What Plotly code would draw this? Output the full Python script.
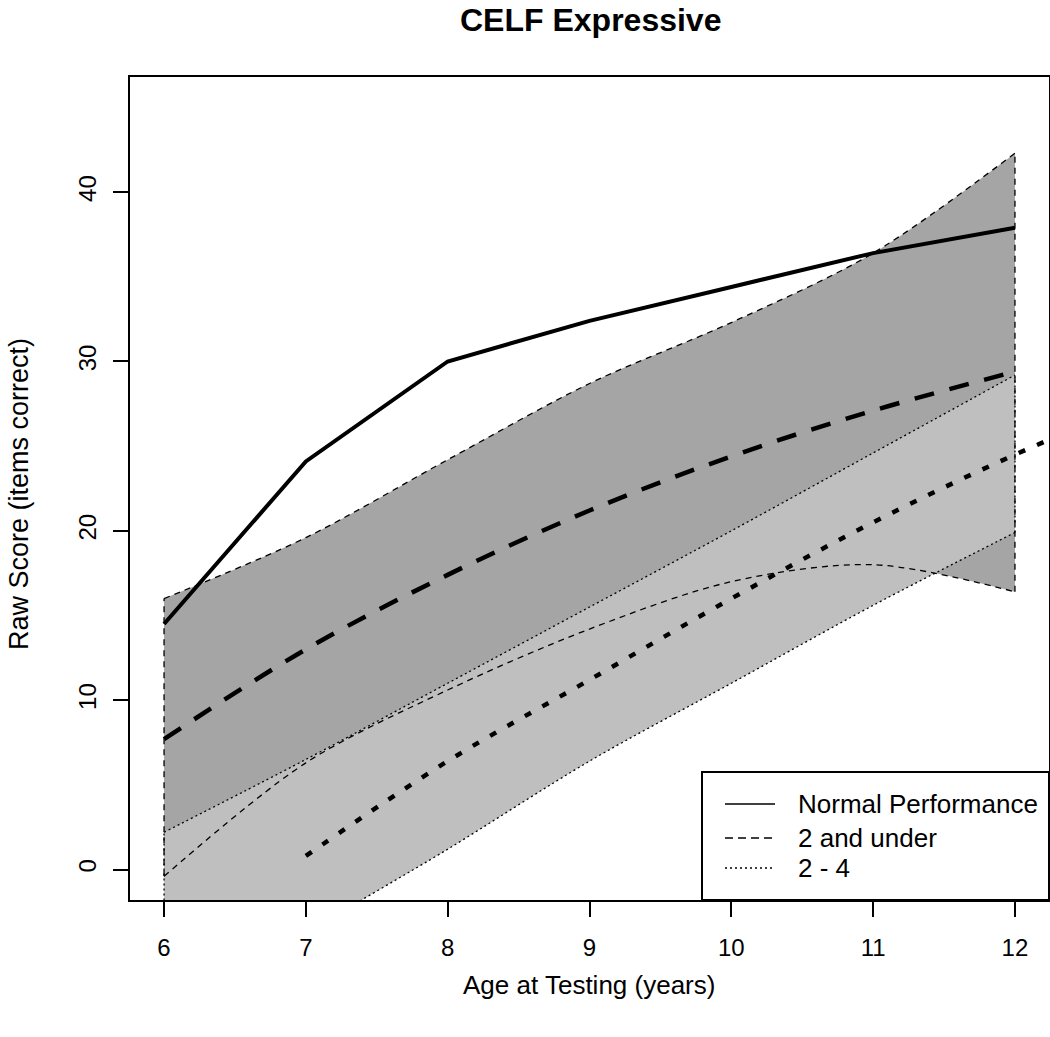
import plotly.graph_objects as go

# ---------------- data ----------------
ages = [6, 7, 8, 9, 10, 11, 12]

normal_perf = [14.5, 24.1, 30.0, 32.4, 34.4, 36.4, 37.9]

under2_mean = [7.7, 13.0, 17.4, 21.2, 24.4, 27.1, 29.4]
under2_upper = [16.0, 19.6, 24.2, 28.7, 32.3, 36.4, 42.3]
under2_lower = [-0.4, 6.3, 10.6, 14.2, 17.0, 18.0, 16.4]

ages_24 = [7, 8, 9, 10, 11, 12, 13]
mid24_mean = [0.8, 6.4, 11.2, 16.0, 20.5, 24.5, 28.0]
mid24_upper = [2.2, 6.5, 11.0, 15.5, 20.0, 24.6, 29.2]
mid24_lower = [-9.5, -3.8, 1.2, 6.4, 11.0, 15.6, 19.9]

x_ticks = [6, 7, 8, 9, 10, 11, 12]
y_ticks = [0, 10, 20, 30, 40]

legend_labels = ["Normal Performance", "2 and under", "2 - 4"]

# ---------------- styling ----------------
FONT = "Liberation Sans, Arial, Helvetica, sans-serif"
DARK = "#a5a5a5"
LIGHT = "#bfbfbf"
SMOOTH = 0.9

W, H = 1050, 1037
ML, MR, MT, MB = 130, 1, 77, 137
PW, PH = W - ML - MR, H - MT - MB


def px2paper(px, py):
    return (px - ML) / PW, (H - MB - py) / PH


fig = go.Figure()


def add_band(xs, up, lo, color):
    fig.add_trace(go.Scatter(x=xs, y=lo, mode="lines",
                             line=dict(width=0, color=color, shape="spline", smoothing=SMOOTH),
                             hoverinfo="skip", showlegend=False))
    fig.add_trace(go.Scatter(x=xs, y=up, mode="lines", fill="tonexty", fillcolor=color,
                             line=dict(width=0, color=color, shape="spline", smoothing=SMOOTH),
                             hoverinfo="skip", showlegend=False))


def add_outline(xs, up, lo, dash, width=1.3):
    for ys in (up, lo):
        fig.add_trace(go.Scatter(x=xs, y=ys, mode="lines",
                                 line=dict(width=width, color="black", dash=dash,
                                           shape="spline", smoothing=SMOOTH),
                                 hoverinfo="skip", showlegend=False))
    for i in (0, -1):
        fig.add_trace(go.Scatter(x=[xs[i], xs[i]], y=[lo[i], up[i]], mode="lines",
                                 line=dict(width=width, color="black", dash=dash),
                                 hoverinfo="skip", showlegend=False))


# band fills (light band drawn over dark band)
add_band(ages, under2_upper, under2_lower, DARK)
add_band(ages, mid24_upper, mid24_lower, LIGHT)

# band outlines
add_outline(ages, mid24_upper, mid24_lower, "2px,3px")
add_outline(ages, under2_upper, under2_lower, "6px,5px")

# mean lines
fig.add_trace(go.Scatter(x=ages, y=normal_perf, mode="lines",
                         line=dict(width=4, color="black"), showlegend=False))
fig.add_trace(go.Scatter(x=ages, y=under2_mean, mode="lines",
                         line=dict(width=4.5, color="black", dash="20px,16px", shape="spline"),
                         showlegend=False))
fig.add_trace(go.Scatter(x=ages_24, y=mid24_mean, mode="lines",
                         line=dict(width=4.5, color="black", dash="7px,13px", shape="spline"),
                         showlegend=False))

# legend (drawn manually)
shapes = []
lx0, ly0 = px2paper(702, 772)
shapes.append(dict(type="rect", xref="paper", yref="paper", x0=lx0, y0=0, x1=1, y1=ly0,
                   line=dict(color="black", width=2), fillcolor="white", layer="above"))
rows_py = [804, 838, 868]
dashes = ["solid", "8px,5px", "2px,3px"]
annotations = []
for lab, rpy, dsh in zip(legend_labels, rows_py, dashes):
    sx0, sy = px2paper(725, rpy)
    sx1, _ = px2paper(775, rpy)
    shapes.append(dict(type="line", xref="paper", yref="paper", x0=sx0, x1=sx1, y0=sy, y1=sy,
                       line=dict(color="black", width=1.6, dash=dsh), layer="above"))
    tx, _ = px2paper(796, rpy)
    annotations.append(dict(text=lab, xref="paper", yref="paper", x=tx, y=sy,
                            xanchor="left", yanchor="middle", showarrow=False,
                            font=dict(family=FONT, size=26, color="black")))

# titles
tx, ty = px2paper(590, 20)
annotations.append(dict(text="<b>CELF Expressive</b>", xref="paper", yref="paper", x=tx, y=ty,
                        xanchor="center", yanchor="middle", showarrow=False,
                        font=dict(family=FONT, size=32, color="black")))
ax_, ay_ = px2paper(589, 985)
annotations.append(dict(text="Age at Testing (years)", xref="paper", yref="paper", x=ax_, y=ay_,
                        xanchor="center", yanchor="middle", showarrow=False,
                        font=dict(family=FONT, size=26, color="black")))
yx_, yy_ = px2paper(19, 494)
annotations.append(dict(text="Raw Score (items correct)", xref="paper", yref="paper", x=yx_, y=yy_,
                        xanchor="center", yanchor="middle", textangle=-90, showarrow=False,
                        font=dict(family=FONT, size=27, color="black")))

axis_common = dict(showgrid=False, zeroline=False, showline=True, mirror=True,
                   linecolor="black", linewidth=2, ticks="outside", ticklen=15, tickwidth=1.5,
                   tickcolor="black", automargin=False,
                   tickfont=dict(family=FONT, size=24, color="black"))

fig.update_layout(
    width=W, height=H,
    margin=dict(l=ML, r=MR, t=MT, b=MB, pad=0, autoexpand=False),
    paper_bgcolor="white", plot_bgcolor="white",
    showlegend=False,
    shapes=shapes, annotations=annotations,
    xaxis=dict(range=[5.76, 12.24], tickvals=x_ticks, ticktext=[str(v) for v in x_ticks],
               ticklabelstandoff=10, **axis_common),
    yaxis=dict(range=[-1.8, 46.8], tickvals=y_ticks, ticktext=[str(v) for v in y_ticks],
               tickangle=-90, ticklabelstandoff=7, **axis_common),
)

fig.write_html("out.html", config={"displayModeBar": False},
               post_script="document.body.style.margin='0';document.body.style.padding='0';")
